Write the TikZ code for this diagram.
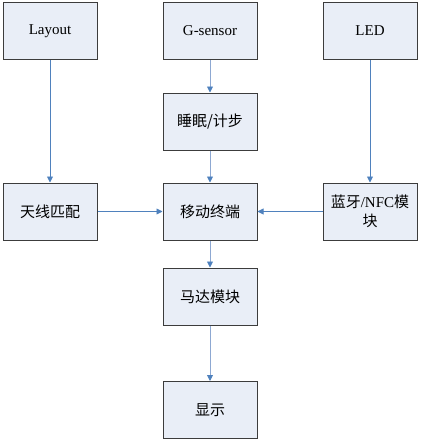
\documentclass[tikz,border=0pt]{standalone}
\usepackage{fontspec}
\setmainfont{Liberation Serif}
\newfontfamily\cjk{Noto Sans CJK SC}
\usepackage{xcolor}
\usetikzlibrary{arrows.meta,positioning}
\definecolor{boxfill}{RGB}{233,238,247}
\definecolor{boxline}{RGB}{60,60,60}
\definecolor{arrowblue}{RGB}{79,129,189}
\definecolor{arrowpale}{RGB}{141,168,210}
\tikzset{%
	block/.style   = {draw=boxline, fill=boxfill, line width=1pt, rectangle, minimum width=94pt, minimum height=57pt, text centered, align=center, font=\fontsize{15}{19}\selectfont},
	arrow/.style   = {draw=arrowblue, line width=0.9pt, -{Triangle[length=6pt,width=6pt]}},
	arrowc/.style  = {arrow, draw=arrowpale, -{Triangle[length=6pt,width=6pt,color=arrowblue]}},
}
\begin{document}
\begin{tikzpicture}[node distance = 160pt]
		\useasboundingbox (0,0) rectangle (421pt,-442pt);
		\node[block] (layout) at (50pt,-31pt) {Layout};
		\node[block,right of=layout] (gsensor) {G-sensor};
		\node[block,right of=gsensor] (led) {LED};
		\node[block,below of=gsensor,node distance=90.5pt] (sleep) {\cjk 睡眠/计步};
		\node[block,below of=sleep,node distance=90pt] (term) {\cjk 移动终端};
		\node[block,left of=term] (antenna) {\cjk 天线匹配};
		\node[block,right of=term] (bt) {{\cjk 蓝牙}/NFC{\cjk 模}\\{\cjk 块}};
		\node[block,below of=term,node distance=85pt] (motor) {\cjk 马达模块};
		\node[block,below of=motor,node distance=113.5pt] (disp) {\cjk 显示};
		
		\draw[arrow] (layout) -- (antenna);
		\draw[arrow] (led) -- (bt);
		\draw[arrow] (antenna) -- (term);
		\draw[arrow] (bt) -- (term);
		\draw[arrowc] (gsensor) -- (sleep);
		\draw[arrowc] (sleep) -- (term);
		\draw[arrowc] (term) -- (motor);
		\draw[arrowc] (motor) -- (disp);
		\end{tikzpicture}
\end{document}
